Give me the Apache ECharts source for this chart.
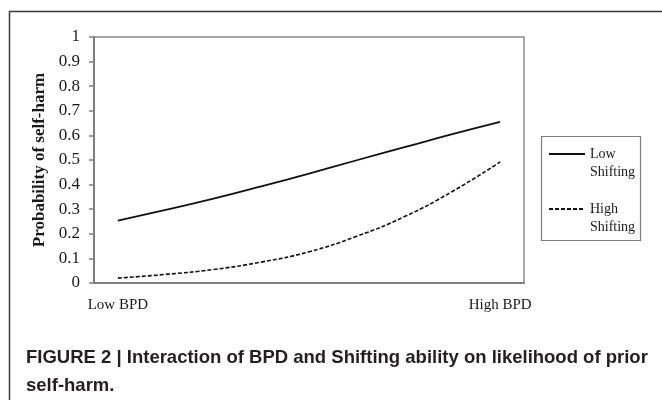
<!DOCTYPE html>
<html>
<head>
<meta charset="utf-8">
<script src="https://cdn.jsdelivr.net/npm/echarts@6/dist/echarts.min.js"></script>
<style>html,body{margin:0;padding:0;background:#fff}#c{width:662px;height:400px}</style>
</head>
<body>
<div id="c"></div>
<script>
var categories = ["Low BPD", "", "", "", "", "", "", "", "High BPD"];
var lowShifting = [0.254, 0.297, 0.343, 0.393, 0.445, 0.499, 0.552, 0.605, 0.655];
var highShifting = [0.020, 0.035, 0.055, 0.085, 0.127, 0.190, 0.270, 0.372, 0.492];
var seriesNames = ["Low Shifting", "High Shifting"];
var yTitle = "Probability of self-harm";
var caption = "FIGURE 2 | Interaction of BPD and Shifting ability on likelihood of prior\nself-harm.";

var chart = echarts.init(document.getElementById('c'), null, {renderer: 'canvas'});
var serif = '"Liberation Serif", "Times New Roman", serif';
chart.setOption({
  animation: false,
  backgroundColor: '#ffffff',
  title: {
    text: caption,
    left: 26, top: 344, padding: 0,
    textStyle: {fontFamily: '"Liberation Sans", Arial, sans-serif', fontWeight: 'bold', fontSize: 18.5, lineHeight: 28, color: '#231f20'}
  },
  graphic: [
    {type: 'line', shape: {x1: 9.5, y1: 11, x2: 9.5, y2: 400}, style: {stroke: '#3a3a3a', lineWidth: 1.5}},
    {type: 'line', shape: {x1: 9, y1: 11.5, x2: 662, y2: 11.5}, style: {stroke: '#3a3a3a', lineWidth: 1.5}},
    {type: 'rect', shape: {x: 541.5, y: 136.5, width: 99, height: 104}, style: {fill: 'none', stroke: '#7f7f7f', lineWidth: 1.2}}
  ],
  legend: {
    data: seriesNames,
    orient: 'vertical',
    left: 548, top: 127,
    padding: 0,
    itemGap: 1,
    itemWidth: 36, itemHeight: 0.5,
    itemStyle: {opacity: 0},
    formatter: function (n) { return '\n' + n.replace(' ', '\n'); },
    textStyle: {fontFamily: serif, fontSize: 14, lineHeight: 18, color: '#1a1a1a'}
  },
  grid: {left: 94, top: 37, right: 138, bottom: 117, show: true, borderColor: '#8c8c8c', borderWidth: 1.5},
  xAxis: {
    type: 'category', data: categories, boundaryGap: true,
    axisLine: {lineStyle: {color: '#7f7f7f', width: 2}},
    axisTick: {show: false},
    axisLabel: {interval: 0, margin: 15, fontFamily: serif, fontSize: 15, color: '#1a1a1a'}
  },
  yAxis: {
    type: 'value', min: 0, max: 1, interval: 0.1,
    name: yTitle, nameLocation: 'middle', nameRotate: 90, nameGap: 44,
    nameTextStyle: {fontFamily: serif, fontWeight: 'bold', fontSize: 17, color: '#1a1a1a'},
    axisLine: {show: true, lineStyle: {color: '#7f7f7f', width: 2}},
    axisTick: {show: true, length: 5, lineStyle: {color: '#7f7f7f', width: 1.5}},
    splitLine: {show: false},
    axisLabel: {margin: 14, fontFamily: serif, fontSize: 17, color: '#1a1a1a'}
  },
  series: [
    {name: seriesNames[0], type: 'line', data: lowShifting, smooth: true, symbol: 'none',
     lineStyle: {color: '#111', width: 1.8, type: 'solid'}, itemStyle: {color: '#111', borderWidth: 0}},
    {name: seriesNames[1], type: 'line', data: highShifting, smooth: true, symbol: 'none',
     lineStyle: {color: '#111', width: 1.6, type: [4, 2]}, itemStyle: {color: '#111', borderWidth: 0}}
  ]
});
</script>
</body>
</html>
